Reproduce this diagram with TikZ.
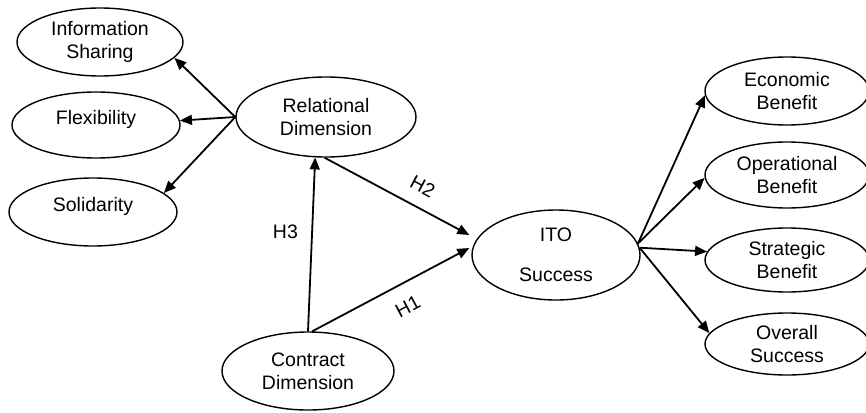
\documentclass[tikz,border=0pt]{standalone}
\usepackage{fontspec}
\setmainfont{Liberation Sans}
\usetikzlibrary{shapes.geometric, arrows.meta}
\tikzset{>={Triangle[length=12pt,width=10pt]}}
\tikzset{
  construct/.style={ellipse, draw, line width=1.4pt, inner sep=0pt, align=center,
    font=\fontsize{19.5}{23}\selectfont},
  oneline/.style={text depth=15pt},
  hyp/.style={font=\fontsize{19.5}{23}\selectfont},
  link/.style={->, line width=1.8pt}
}

\begin{document}
\begin{tikzpicture}[x=1pt, y=-1pt]
\useasboundingbox (0,0) rectangle (866,412);

\node[construct, minimum width=166pt, minimum height=68pt] (info) at (100,42) {Information\\Sharing};
\node[construct, oneline, minimum width=168pt, minimum height=66pt] (flex) at (96,125) {Flexibility};
\node[construct, oneline, minimum width=168pt, minimum height=68pt] (solid) at (93,212) {Solidarity};
\node[construct, minimum width=180pt, minimum height=80pt] (rel) at (326,117) {Relational\\Dimension};
\node[construct, minimum width=168pt, minimum height=90pt] (ito) at (556,255) {ITO\\[17pt]Success};
\node[construct, minimum width=172pt, minimum height=78pt] (contract) at (308,371) {Contract\\Dimension};
\node[construct, minimum width=164pt, minimum height=68pt] (econ) at (787,91) {Economic\\Benefit};
\node[construct, minimum width=164pt, minimum height=66pt] (oper) at (787,175) {Operational\\Benefit};
\node[construct, minimum width=164pt, minimum height=64pt] (strat) at (787,260) {Strategic\\Benefit};
\node[construct, minimum width=164pt, minimum height=62pt] (over) at (787,344) {Overall\\Success};

\draw[link] (rel.west) -- (info.-12);
\draw[link] (rel.west) -- (flex.3);
\draw[link] (rel.west) -- (solid.15);

\draw[link] (contract.north) -- (rel.-105) node[pos=.57, left=10pt, hyp] {H3};
\draw[link] (rel.-92) -- ([xshift=-2pt,yshift=20pt]ito.west) node[pos=.61, sloped, above=10pt, hyp] {H2};
\draw[link] (contract.84) -- ([xshift=-2pt,yshift=7pt]ito.west) node[pos=.54, sloped, below=12pt, hyp] {H1};

\draw[link] (ito.8) -- (econ.183);
\draw[link] (ito.8) -- (oper.182);
\draw[link] (ito.5) -- (strat.174);
\draw[link] (ito.5) -- (over.172);
\end{tikzpicture}
\end{document}
